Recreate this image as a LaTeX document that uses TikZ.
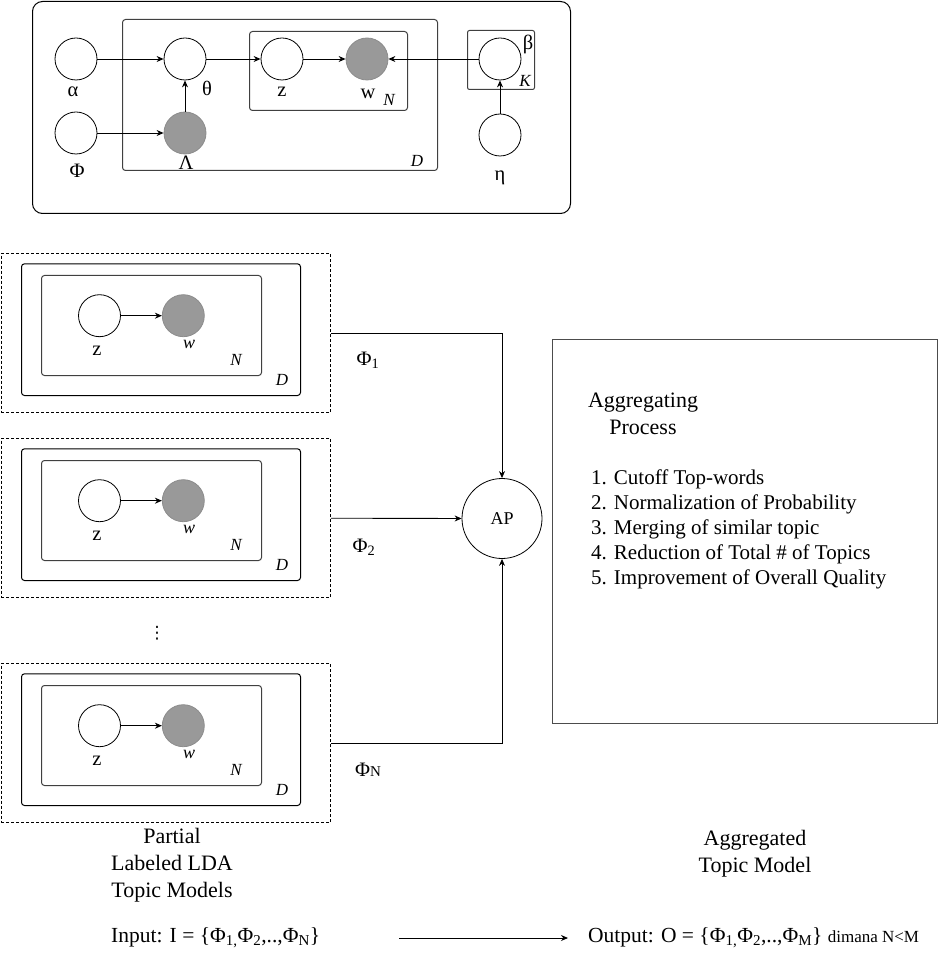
\documentclass[tikz,border=0pt]{standalone}
\usepackage{fontspec}
\setmainfont{Liberation Serif}
\newfontfamily\dotsfont{DejaVu Sans}
\usetikzlibrary{arrows.meta}
\definecolor{obsgray}{HTML}{999999}
\newcommand{\biglbl}{\fontsize{22}{27}\selectfont}
\newcommand{\midlbl}{\fontsize{20.5}{25}\selectfont}
\newcommand{\smalllbl}{\fontsize{17}{20}\selectfont}
\newcommand{\tinylbl}{\fontsize{15}{18}\selectfont}
\tikzset{
  latent/.style={circle, draw, line width=0.8pt, minimum size=42pt, inner sep=0pt},
  observed/.style={latent, fill=obsgray, draw=black!45},
  plate/.style={draw=black!75, line width=1pt, rounded corners=3pt, anchor=north west, inner sep=0pt},
  dashbox/.style={draw, dash pattern=on 3pt off 2pt, line width=0.8pt, anchor=north west, inner sep=0pt},
  link/.style={-{Stealth[length=7pt,width=6pt]}, line width=0.9pt},
  txt/.style={inner sep=0pt},
}
\begin{document}
\begin{tikzpicture}[x=1pt, y=-1pt]
    \useasboundingbox (0,0) rectangle (942,965);

    % labeled LDA model
    \node[draw, line width=1pt, rounded corners=10pt, minimum width=538pt, minimum height=212pt, anchor=north west] (lda) at (32,1) {};
    \node[plate, minimum width=315pt, minimum height=151pt] (plateD) at (122,19) {};
    \node[plate, minimum width=158pt, minimum height=79pt] (plateN) at (249,31) {};
    \node[plate, rounded corners=2pt, minimum width=67pt, minimum height=59pt] (plateK) at (467,30) {};

    \node[latent] (alpha) at (76,59) {};
    \node[latent] (phi) at (76,133) {};
    \node[latent] (theta) at (185,59) {};
    \node[observed] (lambda) at (185,133) {};
    \node[latent] (z) at (282,59) {};
    \node[observed] (w) at (367,59) {};
    \node[latent] (beta) at (500,59) {};
    \node[latent] (eta) at (500,135) {};

    \node[txt] at (73,92) {\midlbl α};
    \node[txt] at (207,88) {\midlbl θ};
    \node[txt] at (77,171) {\midlbl Φ};
    \node[txt] at (186,163) {\midlbl Λ};
    \node[txt] at (282,92) {\midlbl z};
    \node[txt] at (368,94) {\midlbl w};
    \node[txt] at (389,100) {\smalllbl\itshape N};
    \node[txt] at (417,161) {\smalllbl\itshape D};
    \node[txt] at (528,44) {\midlbl β};
    \node[txt] at (525,81) {\smalllbl\itshape K};
    \node[txt] at (500,178) {\midlbl η};

    \draw[link] (alpha) -- (theta);
    \draw[link] (phi) -- (lambda);
    \draw[link] (lambda) -- (theta);
    \draw[link] (theta) -- (z);
    \draw[link] (z) -- (w);
    \draw[link] (beta) -- (w);
    \draw[link] (eta) -- (beta);

    % partial models
    \node[dashbox, minimum width=329.5pt, minimum height=159pt] (model1) at (0.6,253.3) {};
    \node[plate, draw=black, minimum width=279pt, minimum height=131.7pt] (d1) at (21,263.3) {};
    \node[plate, minimum width=220pt, minimum height=100pt] (n1) at (41,275) {};
    \node[latent] (z1) at (99.5,315.7) {};
    \node[observed] (w1) at (183.3,315.7) {};
    \node[txt] at (97,351) {\midlbl z};
    \node[txt] at (189,344) {\fontsize{18}{20}\selectfont\itshape w};
    \node[txt] at (236,360) {\smalllbl\itshape N};
    \node[txt] at (282,380) {\smalllbl\itshape D};
    \draw[link] (z1) -- (w1);

    \node[dashbox, minimum width=329.5pt, minimum height=159pt] (model2) at (0.6,438.3) {};
    \node[plate, draw=black, minimum width=279pt, minimum height=131.7pt] (d2) at (21,448.3) {};
    \node[plate, minimum width=220pt, minimum height=100pt] (n2) at (41,460) {};
    \node[latent] (z2) at (99.5,500.7) {};
    \node[observed] (w2) at (183.3,500.7) {};
    \node[txt] at (97,536) {\midlbl z};
    \node[txt] at (189,529) {\fontsize{18}{20}\selectfont\itshape w};
    \node[txt] at (236,545) {\smalllbl\itshape N};
    \node[txt] at (282,565) {\smalllbl\itshape D};
    \draw[link] (z2) -- (w2);

    \node[txt, font=\dotsfont\fontsize{17}{20}\selectfont] (dots) at (157,633) {⋮};

    \node[dashbox, minimum width=329.5pt, minimum height=159pt] (model3) at (0.6,663.3) {};
    \node[plate, draw=black, minimum width=279pt, minimum height=131.7pt] (d3) at (21,673.3) {};
    \node[plate, minimum width=220pt, minimum height=100pt] (n3) at (41,685) {};
    \node[latent] (z3) at (99.5,725.7) {};
    \node[observed] (w3) at (183.3,725.7) {};
    \node[txt] at (97,761) {\midlbl z};
    \node[txt] at (189,754) {\fontsize{18}{20}\selectfont\itshape w};
    \node[txt] at (236,770) {\smalllbl\itshape N};
    \node[txt] at (282,790) {\smalllbl\itshape D};
    \draw[link] (z3) -- (w3);

    % aggregating process
    \node[latent, minimum size=80pt, font=\fontsize{18}{20}\selectfont] (ap) at (502,518.5) {AP};
    \draw[link] (model1.east) -| (ap.north);
    \draw[link] (model2.east) -- (ap.west);
    \draw[link] (model3.east) -| (ap.south);
    \node[txt] at (368,360) {\midlbl Φ\textsubscript{1}};
    \node[txt] at (364,547) {\midlbl Φ\textsubscript{2}};
    \node[txt] at (368,770) {\midlbl Φ{\tinylbl N}};

    \node[draw=black!70, line width=1.2pt, minimum width=385pt, minimum height=384pt, anchor=north west, inner sep=0pt] (proc) at (552,339) {};
    \node[txt, align=center, font=\biglbl] at (643,414) {Aggregating\\Process};
    \node[txt, align=left, anchor=west, font=\fontsize{21}{25}\selectfont] at (591,529.5) {%
        1. Cutoff Top-words\\
        2. Normalization of Probability\\
        3. Merging of similar topic\\
        4. Reduction of Total \# of Topics\\
        5. Improvement of Overall Quality};

    % captions
    \node[txt, align=center, font=\biglbl] at (172,865) {Partial\\Labeled LDA\\Topic Models};
    \node[txt, align=center, font=\biglbl] at (755,854) {Aggregated\\Topic Model};
    \node[txt, anchor=west, font=\fontsize{21.5}{25}\selectfont] (input) at (111,938) {Input: I = \{Φ\textsubscript{1,}Φ\textsubscript{2},..,Φ\textsubscript{N}\}};
    \node[txt, anchor=west, font=\fontsize{21.5}{25}\selectfont] (output) at (588,938) {Output: O = \{Φ\textsubscript{1,}Φ\textsubscript{2},..,Φ\textsubscript{M}\} {\fontsize{17}{19}\selectfont dimana N<M}};
    \coordinate (from) at (399,938);
    \coordinate (to) at (568,938);
    \draw[link] (from) -- (to);
\end{tikzpicture}
\end{document}
